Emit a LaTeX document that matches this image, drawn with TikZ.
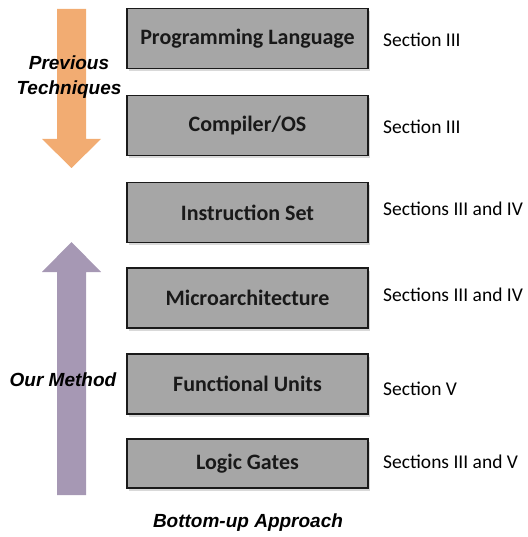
\documentclass[tikz,border=0pt]{standalone}
\usepackage{fontspec}
\setmainfont{Carlito}
\newfontfamily\arialfont{Liberation Sans}
\usepackage{tikz}
\usetikzlibrary{shadows}

\definecolor{boxgray}{HTML}{A6A6A6}
\definecolor{edgegray}{HTML}{1A1A1A}
\definecolor{prevorange}{HTML}{F2AC72}
\definecolor{ourpurple}{HTML}{A698B4}

\tikzset{
	layerbox/.style={draw=edgegray, line width=1.6pt, fill=boxgray, minimum width=241pt,
		minimum height=60pt, inner sep=0pt, font=\fontsize{22}{24}\selectfont\bfseries,
		text=black!90, drop shadow={shadow xshift=2pt, shadow yshift=-2.5pt, opacity=0.3}},
	seclabel/.style={anchor=west, inner sep=0pt, font=\fontsize{19.5}{22}\selectfont},
	sidelabel/.style={align=center, inner sep=0pt, font=\arialfont\fontsize{19}{25}\selectfont\bfseries\itshape}
}

\begin{document}
\begin{tikzpicture}[x=1pt, y=-1pt]
			%%%%% START %%%%%
			\useasboundingbox (0, 0) rectangle (527, 537);
			
			% arrows
			\fill[prevorange] (57, 9) -- (86, 9) -- (86, 139) -- (101, 139) -- (71.5, 168) -- (42, 139) -- (57, 139) -- cycle;
			\fill[ourpurple] (57, 495) -- (86, 495) -- (86, 272) -- (101, 272) -- (71.5, 242) -- (42, 272) -- (57, 272) -- cycle;
			
			% layers
			\node[layerbox] (pl) at (247.5, 38.5) {Programming Language};
			\node[layerbox] (cos) at (247.5, 125.5) {Compiler/OS};
			\node[layerbox] (isa) at (247.5, 212.5) {Instruction Set};
			\node[layerbox] (uarch) at (247.5, 298) {Microarchitecture};
			\node[layerbox] (fu) at (247.5, 384) {Functional Units};
			\node[layerbox, minimum height=49pt] (gates) at (247.5, 463.5) {Logic Gates};
			
			% sections
			\node[seclabel] (secpl) at (383, 40) {Section III};
			\node[seclabel] (seccos) at (383, 127) {Section III};
			\node[seclabel] (secisa) at (383, 208.5) {Sections III and IV};
			\node[seclabel] (secuarch) at (383, 295) {Sections III and IV};
			\node[seclabel] (secfu) at (383, 388.5) {Section V};
			\node[seclabel] (secgates) at (383, 461.5) {Sections III and V};
			
			% side texts
			\node[sidelabel] (prev) at (69, 77) {Previous\\Techniques};
			\node[sidelabel] (ours) at (63, 380) {Our Method};
			\node[sidelabel] (approach) at (248, 523) {Bottom-up Approach};
			%%%%% END %%%%%
\end{tikzpicture}
\end{document}
